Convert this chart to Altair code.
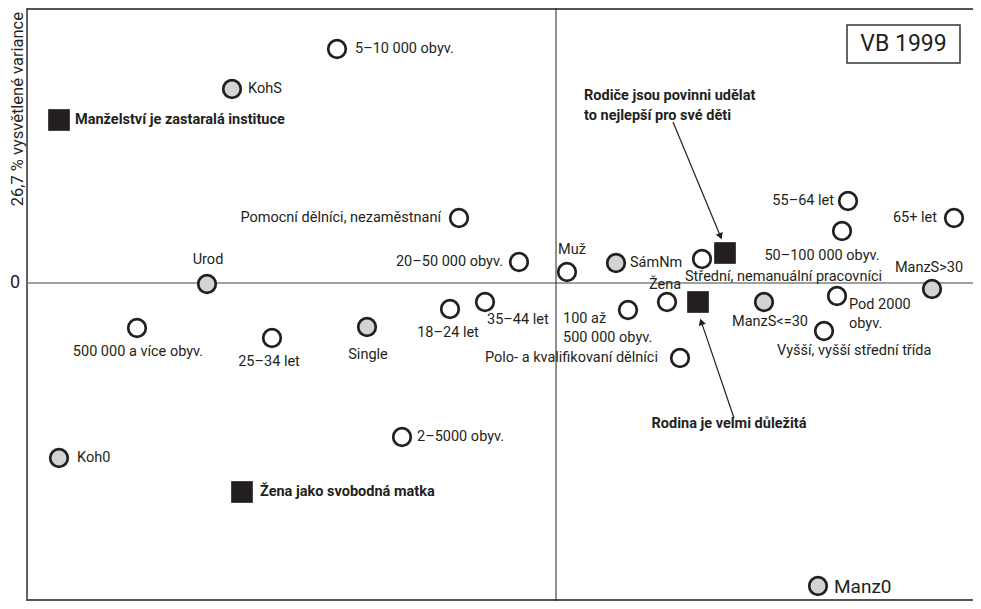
import math
import altair as alt
import pandas as pd

FONT = "Roboto"

# ---------------- data (correspondence-analysis coordinates) ----------------
open_names = ["5–10 000 obyv.", "Pomocní dělníci, nezaměstnaní", "20–50 000 obyv.", "Muž",
              "18–24 let", "35–44 let", "25–34 let", "500 000 a více obyv.", "2–5000 obyv.",
              "100 až\n500 000 obyv.", "Polo- a kvalifikovaní dělníci", "Žena",
              "Střední, nemanuální pracovníci", "55–64 let", "65+ let", "50–100 000 obyv.",
              "Pod 2000\nobyv.", "Vyšší, vyšší střední třída"]
open_x = [-2.19, -0.97, -0.37, 0.11, -1.06, -0.71, -2.84, -4.19, -1.54,
          0.72, 1.24, 1.11, 1.46, 2.92, 3.98, 2.86, 2.81, 2.68]
open_y = [2.34, 0.65, 0.21, 0.11, -0.26, -0.19, -0.55, -0.45, -1.54,
          -0.27, -0.75, -0.19, 0.24, 0.82, 0.65, 0.52, -0.13, -0.48]

grey_names = ["KohS", "Urod", "Single", "Koh0", "SámNm", "ManzS<=30", "ManzS>30", "Manz0"]
grey_x = [-3.24, -3.49, -1.89, -4.97, 0.60, 2.08, 3.76, 2.62]
grey_y = [1.94, -0.01, -0.44, -1.75, 0.20, -0.19, -0.06, -3.03]

sq_names = ["Manželství je zastaralá instituce", "Žena jako svobodná matka",
            "Rodiče jsou povinni udělat\nto nejlepší pro své děti", "Rodina je velmi důležitá"]
sq_x = [-4.97, -3.14, 1.69, 1.42]
sq_y = [1.63, -2.09, 0.30, -0.19]

# arrows: tail -> tip
arrow_x1 = [1.17, 1.78]
arrow_y1 = [1.61, -1.35]
arrow_x2 = [1.66, 1.44]
arrow_y2 = [0.43, -0.35]

# ---------------- label layout (pixel offsets from the point, alignment) ----------------
open_lab = [(18, 0, "left"), (-18, 0, "right"), (-16, 0, "right"), (5, -22, "center"),
            (-2, 24, "center"), (2, 18, "left"), (-3, 24, "center"), (1, 24, "center"),
            (15, 0, "left"), (-65, 9, "left"), (-22, 0, "right"), (-2, -17, "center"),
            (-17, 18, "left"), (-14, 0, "right"), (-17, 0, "right"), (-20, 25, "center"),
            (12, 9, "left"), (-47, 20, "left")]
grey_lab = [(16, 0, "left"), (1, -24, "center"), (1, 28, "center"), (18, 0, "left"),
            (14, 0, "left"), (6, 20, "center"), (-3, -21, "center"), (16, 1, "left")]
sq_lab = [(16, 0, "left"), (18, 0, "left"), (-141, -157, "left"), (31, 122, "center")]

PX = 100.0  # pixels per data unit (both axes)
W, H = 946, 593
XD = [-5.29, 4.17]
YD = [-3.18, 2.75]

pts = pd.DataFrame({
    "name": open_names + grey_names + sq_names,
    "x": open_x + grey_x + sq_x,
    "y": open_y + grey_y + sq_y,
    "kind": ["open"] * len(open_names) + ["grey"] * len(grey_names) + ["square"] * len(sq_names),
})

rows = []
for names, xs_, ys_, labs, kind in [(open_names, open_x, open_y, open_lab, "open"),
                                    (grey_names, grey_x, grey_y, grey_lab, "grey"),
                                    (sq_names, sq_x, sq_y, sq_lab, "square")]:
    for n, x, y, (dx, dy, al) in zip(names, xs_, ys_, labs):
        size = 19 if n == "Manz0" else 14.5
        rows.append({"text": n, "lx": x + dx / PX, "ly": y - dy / PX, "align": al,
                     "bold": kind == "square", "size": size})
labels = pd.DataFrame(rows)

arrows = pd.DataFrame({"x1": arrow_x1, "y1": arrow_y1, "x2": arrow_x2, "y2": arrow_y2})
heads = []
for a in arrows.itertuples():
    sdx = (a.x2 - a.x1) * PX
    sdy = -(a.y2 - a.y1) * PX
    L = math.hypot(sdx, sdy)
    ang = math.degrees(math.atan2(sdx, -sdy)) % 360
    r = 4.0
    heads.append({"hx": a.x2 - (sdx / L) * r / PX, "hy": a.y2 + (sdy / L) * r / PX, "angle": ang,
                  "ex": a.x2 - (sdx / L) * 6 / PX, "ey": a.y2 + (sdy / L) * 6 / PX})
heads = pd.DataFrame(heads)
arrows["ex"] = heads["ex"]
arrows["ey"] = heads["ey"]

xs = alt.Scale(domain=XD, nice=False, zero=False)
ys = alt.Scale(domain=YD, nice=False, zero=False)
X = lambda f: alt.X(f, type="quantitative", scale=xs, axis=None)
Y = lambda f: alt.Y(f, type="quantitative", scale=ys, axis=None)

layers = []

# frame (top, left, bottom)
frame = alt.Chart(pd.DataFrame({"k": [0]}))
layers.append(frame.mark_rule(color="#555555", strokeWidth=2).encode(
    x=alt.value(0), x2=alt.value(W), y=alt.value(1)))
layers.append(frame.mark_rule(color="#333333", strokeWidth=1.5).encode(
    x=alt.value(0), y=alt.value(0), y2=alt.value(H)))
layers.append(frame.mark_rule(color="#555555", strokeWidth=2).encode(
    x=alt.value(0), x2=alt.value(W), y=alt.value(H - 1)))

# zero lines
layers.append(alt.Chart(pd.DataFrame({"v": [0.0]})).mark_rule(color="#808080", strokeWidth=1.5)
              .encode(y=Y("v")))
layers.append(alt.Chart(pd.DataFrame({"v": [0.0]})).mark_rule(color="#222222", strokeWidth=1)
              .encode(x=X("v")))

# VB 1999 box
box = pd.DataFrame({"x1": [2.91], "x2": [4.04], "y1": [2.58], "y2": [2.20], "t": ["VB 1999"],
                    "xm": [3.475], "ym": [2.39]})
layers.append(alt.Chart(box).mark_rect(fill="white", stroke="#333333", strokeWidth=1.5).encode(
    x=X("x1"), x2="x2", y=Y("y1"), y2="y2"))
layers.append(alt.Chart(box).mark_text(font=FONT, fontSize=23, color="#231f20",
                                       baseline="middle", align="center").encode(
    x=X("xm"), y=Y("ym"), text="t"))

# arrows
layers.append(alt.Chart(arrows).mark_rule(color="#231f20", strokeWidth=1.2).encode(
    x=X("x1"), y=Y("y1"), x2="ex", y2="ey"))
layers.append(alt.Chart(heads).mark_point(shape="triangle-up", filled=True, size=55,
                                          color="#231f20", opacity=1).encode(
    x=X("hx"), y=Y("hy"), angle=alt.Angle("angle:Q", scale=None)))

# points
layers.append(alt.Chart(pts[pts.kind == "open"]).mark_point(
    shape="circle", filled=True, fill="white", stroke="#231f20", strokeWidth=2.7,
    size=310, opacity=1).encode(x=X("x"), y=Y("y")))
layers.append(alt.Chart(pts[pts.kind == "grey"]).mark_point(
    shape="circle", filled=True, fill="#d1d3d4", stroke="#231f20", strokeWidth=2.7,
    size=310, opacity=1).encode(x=X("x"), y=Y("y")))
layers.append(alt.Chart(pts[pts.kind == "square"]).mark_point(
    shape="square", filled=True, fill="#231f20", stroke="#231f20", strokeWidth=0,
    size=470, opacity=1).encode(x=X("x"), y=Y("y")))

# labels
for (al, bold, size), g in labels.groupby(["align", "bold", "size"]):
    lh = 19 if not bold else 20
    layers.append(alt.Chart(g).mark_text(
        font=FONT, fontSize=size, fontWeight="bold" if bold else "normal",
        color="#231f20", align=al, baseline="middle", lineBreak="\n", lineHeight=lh
    ).encode(x=X("lx"), y=Y("ly"), text="text"))

# axis texts
layers.append(alt.Chart(pd.DataFrame({"v": [0.0], "t": ["0"]})).mark_text(
    font=FONT, fontSize=18, color="#231f20", align="center", baseline="middle").encode(
    x=alt.value(-12), y=Y("v"), text="t"))
layers.append(alt.Chart(pd.DataFrame({"t": ["26,7 % vysvětlené variance"]})).mark_text(
    font=FONT, fontSize=16.5, color="#231f20", align="right", baseline="middle", angle=270).encode(
    x=alt.value(-9), y=alt.value(4), text="t"))

chart = alt.layer(*layers).properties(
    width=W, height=H,
    autosize=alt.AutoSizeParams(type="none"),
    padding={"left": 19, "top": 0, "right": 0, "bottom": 0},
).configure_view(stroke=None).configure(background="white")

chart.save("out.html", embed_options={"renderer": "svg", "actions": False})
